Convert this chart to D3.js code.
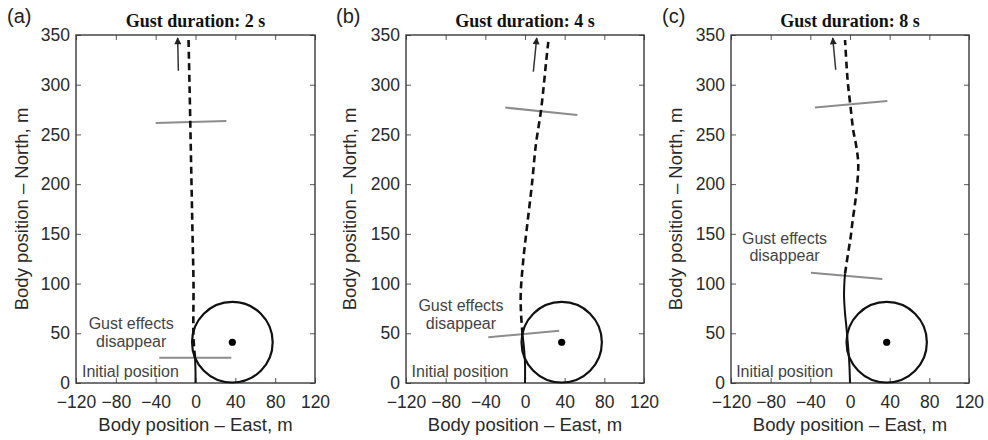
<!DOCTYPE html>
<html>
<head>
<meta charset="utf-8">
<script src="https://cdn.jsdelivr.net/npm/d3@7"></script>
<style>
  html, body { margin: 0; padding: 0; background: #fff; }
  svg { display: block; }
</style>
</head>
<body>
<svg id="chart" width="988" height="440"></svg>
<script>
// ---------- data ----------
const panelLabels = ["(a)", "(b)", "(c)"];
const gustDurations = [2, 4, 8];
const xTickValues = [-120, -80, -40, 0, 40, 80, 120];
const yTickValues = [0, 50, 100, 150, 200, 250, 300, 350];
const xDomain = [-120, 120];
const yDomain = [0, 350];

// trajectory while gust acts (solid) [east, north] in m
const solidTracks = [
  [[0, 0], [0, 12], [-0.5, 25.5]],
  [[0, 0], [0, 20], [-1, 35], [-2.5, 49]],
  [[0, 0], [-0.7, 20], [-2.2, 40], [-3.5, 55], [-5, 70], [-6, 87], [-5.7, 100], [-5, 110]]
];
// trajectory after gust effects disappear (dashed)
const dashedTracks = [
  [[-0.5, 25.5], [-2, 45], [-2, 100], [-3, 150], [-4, 200], [-5, 250], [-6, 300], [-7, 345]],
  [[-2.5, 49], [-4, 70], [-4.3, 90], [-1.7, 124], [2.6, 162], [7, 200], [11, 240], [16, 273], [19, 300], [21.5, 325], [23.5, 343]],
  [[-5, 110], [-2, 130], [0.7, 147], [2.5, 162], [5, 180], [7, 197], [8.3, 221], [6, 240], [3.3, 254], [0.3, 280], [-2, 300], [-3.5, 320], [-5, 345]]
];
// gray "gust effects disappear" markers
const gustEndLines = [
  [[-36.4, 25.5], [36, 25.5]],
  [[-37, 46], [34.5, 52.5]],
  [[-39.4, 111], [32.6, 104.6]]
];
// gray heading markers near the top
const headingLines = [
  [[-40, 261.5], [31, 263.5]],
  [[-20, 277], [52.8, 269.6]],
  [[-35.4, 277], [37.7, 283.7]]
];
// direction arrows [tail, head]
const arrows = [
  [[-17.2, 314], [-17.9, 347]],
  [[8.4, 313], [11.8, 347]],
  [[-14.4, 315], [-17.4, 347]]
];
const targetCenter = [37, 41];
const targetRadius = 40.5;

// annotation anchors in data coordinates
const gustTextAnchors = [[-64.6, 54], [-64.6, 72.4], [-66, 139.8]];
const initialTextAnchors = [[-114, 5.7], [-114.4, 5.7], [-114.8, 6.3]];

// ---------- layout ----------
const panelBoxes = [
  { left: 76, right: 315 },
  { left: 406, right: 644 },
  { left: 731, right: 969 }
];
const plotTop = 35, plotBottom = 383;
const labelXs = [7, 336, 662];
const yLabelXs = [21, 349, 675];

const svg = d3.select("#chart");
const sans = "'Liberation Sans', Arial, Helvetica, sans-serif";
const serif = "'Liberation Serif', 'Times New Roman', serif";

const defs = svg.append("defs");
defs.append("marker")
  .attr("id", "arrowhead")
  .attr("markerUnits", "userSpaceOnUse")
  .attr("viewBox", "0 0 10 10")
  .attr("refX", 9).attr("refY", 5)
  .attr("markerWidth", 9).attr("markerHeight", 7)
  .attr("orient", "auto")
  .append("path")
  .attr("d", "M0,0 L10,5 L0,10 Z")
  .attr("fill", "#222");

panelBoxes.forEach((box, i) => {
  const x = d3.scaleLinear().domain(xDomain).range([box.left, box.right]);
  const y = d3.scaleLinear().domain(yDomain).range([plotBottom, plotTop]);
  const g = svg.append("g");

  // axes with inward ticks
  const tick = 5;
  const axL = g.append("g").attr("transform", `translate(${box.left},0)`)
    .call(d3.axisLeft(y).tickValues(yTickValues).tickSizeInner(-tick).tickSizeOuter(0).tickPadding(6));
  const axB = g.append("g").attr("transform", `translate(0,${plotBottom})`)
    .call(d3.axisBottom(x).tickValues(xTickValues).tickSizeInner(-tick).tickSizeOuter(0).tickPadding(13));
  const axT = g.append("g").attr("transform", `translate(0,${plotTop})`)
    .call(d3.axisTop(x).tickValues(xTickValues).tickSizeInner(-tick).tickSizeOuter(0).tickFormat(""));
  const axR = g.append("g").attr("transform", `translate(${box.right},0)`)
    .call(d3.axisRight(y).tickValues(yTickValues).tickSizeInner(-tick).tickSizeOuter(0).tickFormat(""));
  [axL, axB, axT, axR].forEach(a => {
    a.select(".domain").remove();
    a.selectAll(".tick line").attr("stroke", "#555").attr("stroke-width", 1);
    a.selectAll("text").attr("font-family", sans).attr("font-size", "17.5px").attr("fill", "#2a2a2a");
  });
  axB.selectAll("text").attr("dy", "0.71em");

  // frame
  g.append("rect")
    .attr("x", box.left).attr("y", plotTop)
    .attr("width", box.right - box.left).attr("height", plotBottom - plotTop)
    .attr("fill", "none").attr("stroke", "#3a3a3a").attr("stroke-width", 1.4);

  const line = d3.line().x(d => x(d[0])).y(d => y(d[1]));
  const smooth = d3.line().x(d => x(d[0])).y(d => y(d[1])).curve(d3.curveCatmullRom.alpha(0.5));

  // gray marker lines
  [gustEndLines[i], headingLines[i]].forEach(seg => {
    g.append("path").attr("d", line(seg))
      .attr("fill", "none").attr("stroke", "#8c8c8c").attr("stroke-width", 2);
  });

  // target circle
  g.append("ellipse")
    .attr("cx", x(targetCenter[0])).attr("cy", y(targetCenter[1]))
    .attr("rx", x(targetRadius) - x(0)).attr("ry", y(0) - y(targetRadius))
    .attr("fill", "none").attr("stroke", "#111").attr("stroke-width", 2.2);
  g.append("circle")
    .attr("cx", x(targetCenter[0])).attr("cy", y(targetCenter[1]))
    .attr("r", 3.6).attr("fill", "#000");

  // trajectory
  g.append("path").attr("d", smooth(solidTracks[i]))
    .attr("fill", "none").attr("stroke", "#111").attr("stroke-width", 2);
  g.append("path").attr("d", smooth(dashedTracks[i]))
    .attr("fill", "none").attr("stroke", "#111").attr("stroke-width", 2.6)
    .attr("stroke-dasharray", "7,4.5");

  // arrow
  g.append("path").attr("d", line(arrows[i]))
    .attr("fill", "none").attr("stroke", "#333").attr("stroke-width", 1.5)
    .attr("marker-end", "url(#arrowhead)");

  // annotations
  const ga = gustTextAnchors[i];
  g.append("text").attr("x", x(ga[0])).attr("y", y(ga[1]))
    .attr("text-anchor", "middle").attr("font-family", sans).attr("font-size", "16px").attr("fill", "#444")
    .text("Gust effects");
  g.append("text").attr("x", x(ga[0])).attr("y", y(ga[1]) + 17.5)
    .attr("text-anchor", "middle").attr("font-family", sans).attr("font-size", "16px").attr("fill", "#444")
    .text("disappear");
  const ia = initialTextAnchors[i];
  g.append("text").attr("x", x(ia[0])).attr("y", y(ia[1]))
    .attr("text-anchor", "start").attr("font-family", sans).attr("font-size", "16px").attr("fill", "#444")
    .text("Initial position");

  // title
  g.append("text").attr("x", (box.left + box.right) / 2).attr("y", 27)
    .attr("text-anchor", "middle").attr("font-family", serif).attr("font-weight", "bold")
    .attr("font-size", "18px").attr("fill", "#111")
    .text(`Gust duration: ${gustDurations[i]} s`);

  // panel label
  g.append("text").attr("x", labelXs[i]).attr("y", 22.5)
    .attr("font-family", sans).attr("font-size", "20px").attr("fill", "#222")
    .text(panelLabels[i]);

  // axis labels
  g.append("text").attr("x", (box.left + box.right) / 2).attr("y", 431)
    .attr("text-anchor", "middle").attr("font-family", sans).attr("font-size", "18.5px").attr("fill", "#2a2a2a")
    .text("Body position – East, m");
  g.append("text")
    .attr("transform", `translate(${yLabelXs[i]},${(plotTop + plotBottom) / 2}) rotate(-90)`)
    .attr("text-anchor", "middle").attr("dominant-baseline", "central")
    .attr("font-family", sans).attr("font-size", "18.5px").attr("fill", "#2a2a2a")
    .text("Body position – North, m");
});
</script>
</body>
</html>
